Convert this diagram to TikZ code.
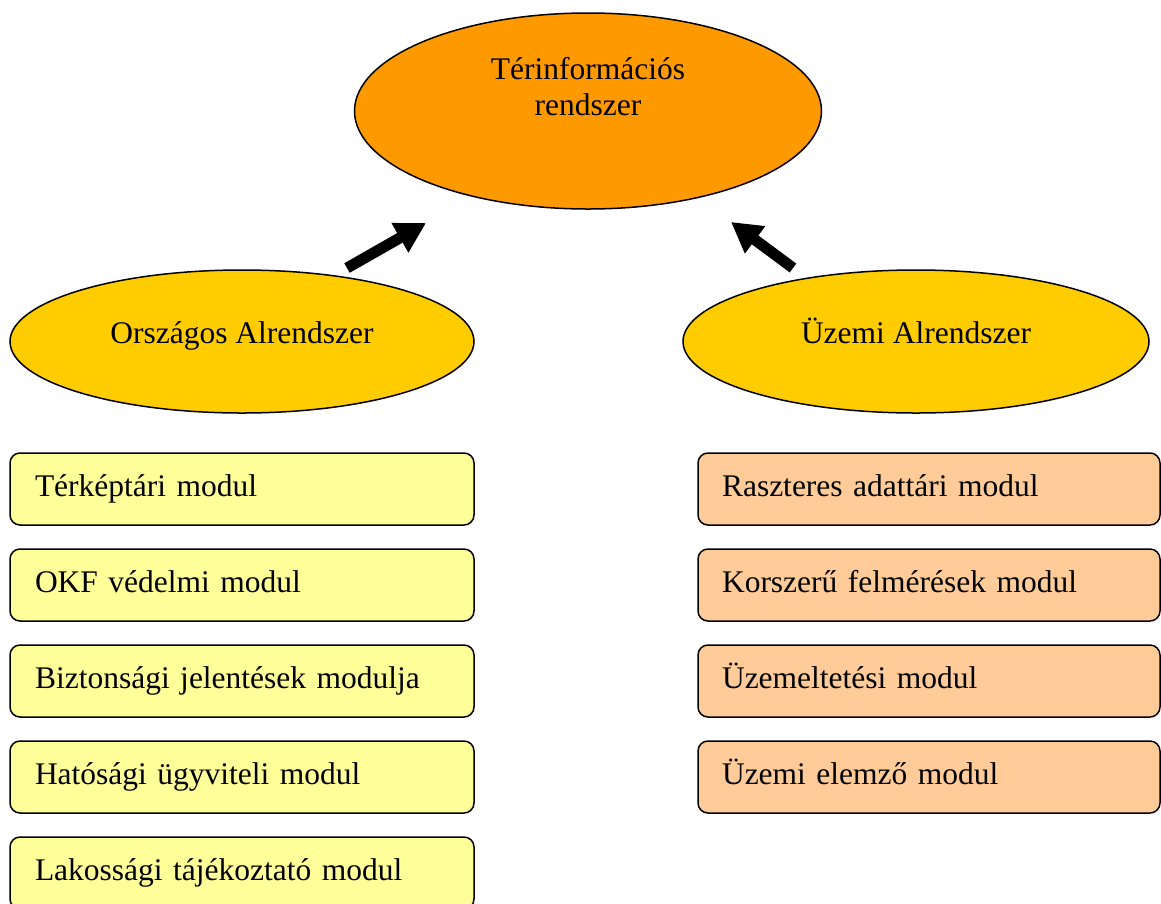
\documentclass[tikz,border=0pt]{standalone}
\usepackage{fontspec}
\setmainfont{Liberation Serif}
\usepackage{tikz}
\usetikzlibrary{positioning, arrows.meta, shapes.geometric}

\definecolor{sysorange}{HTML}{FF9900}
\definecolor{subgold}{HTML}{FFCC00}
\definecolor{modyellow}{HTML}{FFFF99}
\definecolor{modpeach}{HTML}{FFCC99}

\begin{document}
\begin{tikzpicture}[x=1pt, y=-1pt,
    every node/.style={font=\fontsize{31.5}{36}\selectfont},
    sysell/.style={draw, ellipse, line width=1.5pt, inner sep=0pt, text height=20pt, text depth=17pt},
    modbox/.style={draw, rounded corners=10pt, line width=1.5pt, minimum height=72pt,
        text width=414pt, inner xsep=24pt, align=left, text height=26pt, text depth=11pt},
    bigarrow/.style={line width=11pt, -{Triangle[length=30pt, width=32pt]}}]

\useasboundingbox (0,0) rectangle (1161,903);

% Main system
\node[sysell, fill=sysorange, minimum width=467pt, minimum height=196pt,
    label={[align=center, yshift=24pt]center:Térinformációs\\rendszer}] (sys) at (588,111) {};

% Subsystems
\node[sysell, fill=subgold, minimum width=464pt, minimum height=143pt] (orsz) at (242,341.5) {Országos Alrendszer};
\node[sysell, fill=subgold, minimum width=466pt, minimum height=143pt] (uzem) at (916,341.5) {Üzemi Alrendszer};

% Arrows
\coordinate (orsz-tail) at (347,268);
\coordinate (orsz-head) at (426,223);
\coordinate (uzem-tail) at (793,268);
\coordinate (uzem-head) at (731,222);
\draw[bigarrow] (orsz-tail) -- (orsz-head);
\draw[bigarrow] (uzem-tail) -- (uzem-head);

% Modules
\foreach \t [count=\i] in {Térképtári modul, OKF védelmi modul, Biztonsági jelentések modulja,
        Hatósági ügyviteli modul, Lakossági tájékoztató modul}
    \node[modbox, fill=modyellow, minimum width=464pt] (O-\i) at (242,{489+96*(\i-1)}) {\t};

\foreach \t [count=\i] in {Raszteres adattári modul, Korszerű felmérések modul,
        Üzemeltetési modul, Üzemi elemző modul}
    \node[modbox, fill=modpeach, minimum width=462pt] (U-\i) at (929,{489+96*(\i-1)}) {\t};

\end{tikzpicture}
\end{document}
